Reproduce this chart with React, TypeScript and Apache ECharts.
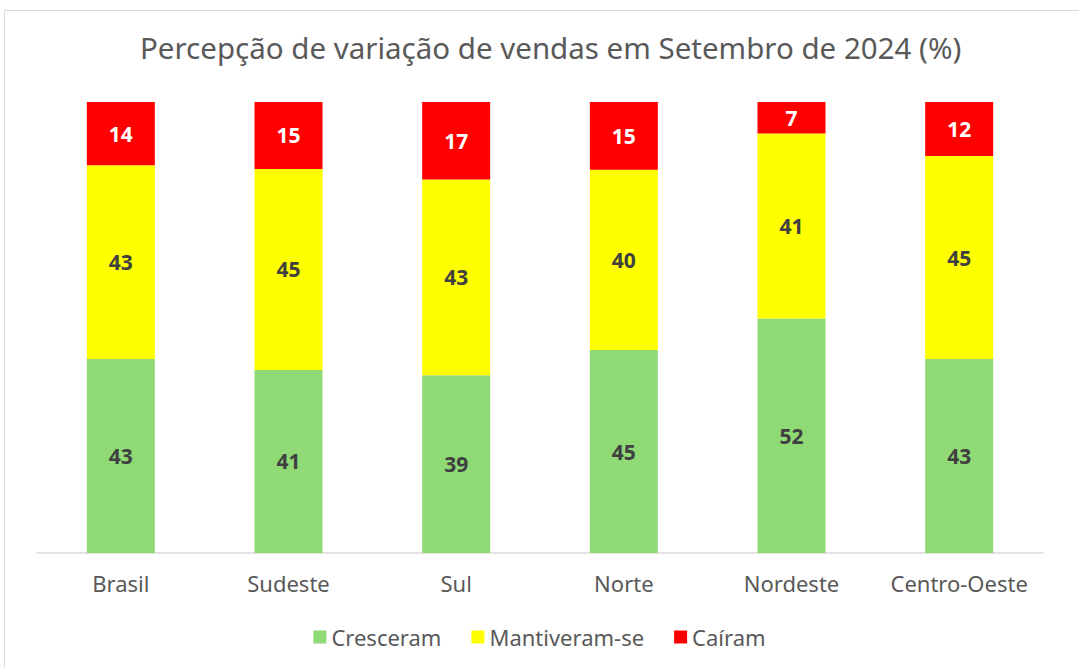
import React, { useEffect, useRef } from "react";
import * as echarts from "echarts";

const categories = ["Brasil", "Sudeste", "Sul", "Norte", "Nordeste", "Centro-Oeste"];
const cresceram = [43, 41, 39, 45, 52, 43];
const mantiveram = [43, 45, 43, 40, 41, 45];
const cairam = [14, 15, 17, 15, 7, 12];
const seriesNames = ["Cresceram", "Mantiveram-se", "Caíram"];
const titleText = "Percepção de variação de vendas em Setembro de 2024 (%)";

export default function App() {
  const ref = useRef<HTMLDivElement>(null);
  useEffect(() => {
    if (!ref.current) return;
    const chart = echarts.init(ref.current, undefined, { renderer: "svg" });
    const all = [cresceram, mantiveram, cairam];
    const totals = categories.map((_, i) => all.reduce((s, arr) => s + arr[i], 0));
    const colors = ["#8FDA75", "#FFFF00", "#FF0000"];
    const labelColors = ["#404040", "#404040", "#FFFFFF"];
    const font = "'Noto Sans', sans-serif";
    chart.setOption({
      animation: false,
      backgroundColor: "#ffffff",
      title: {
        text: titleText,
        left: 135,
        top: 27,
        textStyle: { fontFamily: font, fontSize: 29.5, fontWeight: "normal", color: "#595959" },
      },
      graphic: [
        {
          type: "rect",
          shape: { x: 4.5, y: 10.5, width: 1080, height: 670 },
          style: { fill: "none", stroke: "#D9D9D9", lineWidth: 1 },
          silent: true,
        },
      ],
      legend: {
        bottom: 15,
        left: "center",
        itemWidth: 13,
        itemHeight: 13,
        itemGap: 30,
        icon: "rect",
        textStyle: { fontFamily: font, fontSize: 22, color: "#595959" },
        data: seriesNames,
      },
      grid: { left: 37, right: 36, top: 102, bottom: 115 },
      xAxis: {
        type: "category",
        data: categories,
        axisLine: { lineStyle: { color: "#D9D9D9", width: 1.5 } },
        axisTick: { show: false },
        axisLabel: { interval: 0, fontFamily: font, fontSize: 22, color: "#595959", margin: 19 },
      },
      yAxis: { type: "value", min: 0, max: 100, show: false, splitLine: { show: false } },
      series: all.map((arr, si) => ({
        name: seriesNames[si],
        type: "bar",
        stack: "total",
        barWidth: 68,
        itemStyle: { color: colors[si] },
        label: {
          show: true,
          position: "inside",
          fontFamily: font,
          fontSize: 21,
          fontWeight: "bold",
          color: labelColors[si],
          formatter: (p: any) => String(p.data.raw),
        },
        data: arr.map((v, i) => ({ value: (v / totals[i]) * 100, raw: v })),
      })),
    });
    return () => chart.dispose();
  }, []);
  return (
    <div
      ref={ref}
      style={{ position: "fixed", left: 0, top: 0, width: 1079, height: 668 }}
    />
  );
}
